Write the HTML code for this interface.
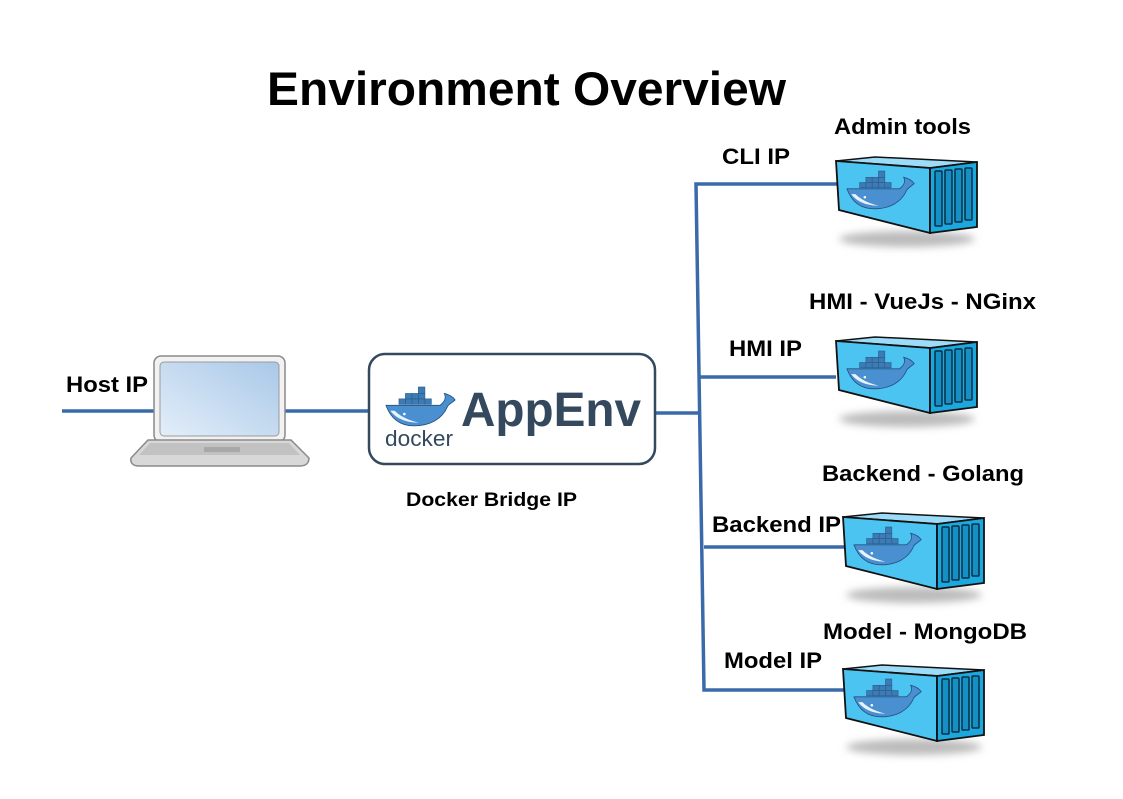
<!DOCTYPE html>
<html><head><meta charset="utf-8"><style>
html,body{margin:0;padding:0;background:#fff;}
svg text{font-family:"Liberation Sans",sans-serif;font-weight:bold;fill:#000;}
</style></head><body>
<svg width="1123" height="794" viewBox="0 0 1123 794" xmlns="http://www.w3.org/2000/svg">
<defs>
<filter id="bl" x="-30%" y="-100%" width="160%" height="300%"><feGaussianBlur stdDeviation="4"/></filter>
<linearGradient id="scr" x1="0" y1="1" x2="1" y2="0"><stop offset="0" stop-color="#e3eef9"/><stop offset="1" stop-color="#a9c8e8"/></linearGradient>
<g id="whale">
 <g fill="#3d7bb5" stroke="#2a5d8f" stroke-width="0.6">
  <rect x="12" y="11" width="6" height="5"/><rect x="18" y="11" width="6" height="5"/><rect x="24" y="11" width="6" height="5"/><rect x="30" y="11" width="6" height="5"/><rect x="36" y="11" width="6" height="5"/>
  <rect x="18" y="6" width="6" height="5"/><rect x="24" y="6" width="6" height="5"/><rect x="30" y="6" width="6" height="5"/>
  <rect x="30" y="0" width="6" height="6"/>
 </g>
 <path d="M0,17 L50,17 C54,14 56,10 54,6 C58,7 62,9 64,12 C62,14 58,16 57,18 C52,30 40,36 26,36 C12,36 4,28 0,17 Z" fill="#4a90d0" stroke="#23507e" stroke-width="0.8"/>
 <path d="M4,22 C10,30 20,33 30,33 C22,31 14,28 8,22 Z" fill="#e8f3fb"/>
 <circle cx="17" cy="25" r="1.2" fill="#fff"/>
</g>
<g id="cont">
 <ellipse cx="72" cy="82" rx="68" ry="8" fill="#bbb" filter="url(#bl)"/>
 <polygon points="1,4 40,0 142,5 95,11" fill="#9ddcf8" stroke="#111" stroke-width="1.5"/>
 <polygon points="1,4 95,11 95,76 4,53" fill="#4cc4f2" stroke="#111" stroke-width="1.8"/>
 <polygon points="95,11 142,5 142,70 95,76" fill="#1aa8de" stroke="#111" stroke-width="1.8"/>
 <g fill="#1590c4" stroke="#0b2f44" stroke-width="1.5">
  <rect x="100" y="14" width="7" height="55" rx="1"/><rect x="110" y="13" width="7" height="54" rx="1"/><rect x="120" y="12" width="7" height="53" rx="1"/><rect x="130" y="11" width="7" height="52" rx="1"/>
 </g>
 <use href="#whale" transform="translate(12,14) scale(1.05)"/>
</g>
</defs>

<text x="267" y="105" font-size="47" textLength="519" lengthAdjust="spacingAndGlyphs">Environment Overview</text>

<!-- connectors -->
<g stroke="#3a6aaa" stroke-width="3.5" fill="none">
 <line x1="62" y1="411" x2="160" y2="411"/>
 <line x1="283" y1="411" x2="370" y2="411"/>
 <line x1="654" y1="413" x2="698" y2="413"/>
 <polyline points="838,184 696,184 704,690 846,690"/>
 <line x1="700" y1="377" x2="836" y2="377"/>
 <line x1="704" y1="547" x2="846" y2="547"/>
</g>

<!-- laptop -->
<g>
 <rect x="154" y="356" width="131" height="86" rx="7" fill="#f2f2f2" stroke="#8a8a8a" stroke-width="1.5"/>
 <rect x="160" y="362" width="119" height="74" rx="4" fill="url(#scr)" stroke="#9a9a9a"/>
 <path d="M148,440 L291,440 L309,458 C309,463 306,466 300,466 L139,466 C133,466 130,463 131,458 Z" fill="#d8d8d8" stroke="#8a8a8a" stroke-width="1.5"/>
 <path d="M150,443 L289,443 L300,455 L139,455 Z" fill="#c2c2c2"/>
 <rect x="204" y="447" width="36" height="5" fill="#a8a8a8"/>
</g>
<text x="66" y="392" font-size="22" textLength="82" lengthAdjust="spacingAndGlyphs">Host IP</text>

<!-- AppEnv box -->
<rect x="369" y="354" width="286" height="110" rx="16" fill="#fff" stroke="#34495e" stroke-width="2.5"/>
<use href="#whale" transform="translate(386,387) scale(1.08)"/>
<text x="385" y="446" font-size="22" textLength="68" lengthAdjust="spacingAndGlyphs" style="font-weight:normal;fill:#34495e">docker</text>
<text x="461" y="426" font-size="48" textLength="180" lengthAdjust="spacingAndGlyphs" style="fill:#34495e">AppEnv</text>
<text x="406" y="506" font-size="19" textLength="171" lengthAdjust="spacingAndGlyphs">Docker Bridge IP</text>

<!-- containers -->
<use href="#cont" transform="translate(835,157)"/>
<use href="#cont" transform="translate(835,337)"/>
<use href="#cont" transform="translate(842,513)"/>
<use href="#cont" transform="translate(842,665)"/>

<text x="834" y="134" font-size="22" textLength="137" lengthAdjust="spacingAndGlyphs">Admin tools</text>
<text x="722" y="164" font-size="22" textLength="68" lengthAdjust="spacingAndGlyphs">CLI IP</text>
<text x="809" y="309" font-size="22" textLength="227" lengthAdjust="spacingAndGlyphs">HMI - VueJs - NGinx</text>
<text x="729" y="356" font-size="22" textLength="73" lengthAdjust="spacingAndGlyphs">HMI IP</text>
<text x="822" y="481" font-size="22" textLength="202" lengthAdjust="spacingAndGlyphs">Backend - Golang</text>
<text x="712" y="532" font-size="22" textLength="129" lengthAdjust="spacingAndGlyphs">Backend IP</text>
<text x="823" y="639" font-size="22" textLength="204" lengthAdjust="spacingAndGlyphs">Model - MongoDB</text>
<text x="724" y="668" font-size="22" textLength="98" lengthAdjust="spacingAndGlyphs">Model IP</text>
</svg>
</body></html>
